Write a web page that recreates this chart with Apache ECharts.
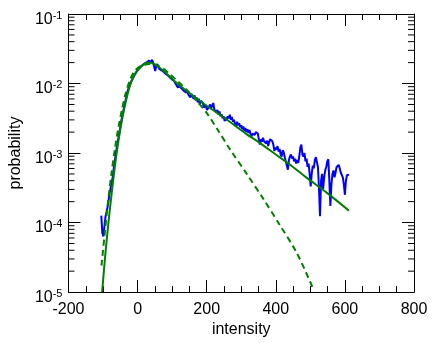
<!DOCTYPE html>
<html>
<head>
<meta charset="utf-8">
<script src="https://cdn.jsdelivr.net/npm/echarts@6/dist/echarts.min.js"></script>
<style>
  html, body { margin: 0; padding: 0; background: #fff; }
  #chart { width: 436px; height: 343px; }
</style>
</head>
<body>
<div id="chart"></div>
<script>
// measured histogram: [intensity, probability]
const measured = [
  [-105,1.26e-4],[-102,7.08e-5],[-99,6.31e-5],[-96,8.91e-5],[-93,1.20e-4],[-90,1.41e-4],
  [-87,1.66e-4],[-84,2.09e-4],[-81,2.63e-4],[-78,3.16e-4],[-75,3.80e-4],[-72,4.47e-4],
  [-69,6.03e-4],[-66,7.59e-4],[-63,1.00e-3],[-60,1.20e-3],[-57,1.48e-3],[-54,1.82e-3],
  [-51,2.19e-3],[-48,2.75e-3],[-45,3.31e-3],[-42,3.80e-3],[-39,4.68e-3],[-36,5.37e-3],
  [-33,6.31e-3],[-30,7.41e-3],[-27,8.32e-3],[-24,9.12e-3],[-21,1.00e-2],[-18,1.05e-2],
  [-15,1.15e-2],[-12,1.20e-2],[-9,1.32e-2],[-6,1.38e-2],[-3,1.48e-2],[0,1.55e-2],
  [3,1.62e-2],[6,1.66e-2],[9,1.74e-2],[12,1.82e-2],[15,1.86e-2],[18,1.91e-2],
  [21,1.95e-2],[24,2.00e-2],[27,2.04e-2],[30,1.95e-2],[33,2.14e-2],[36,2.00e-2],
  [39,2.09e-2],[42,2.19e-2],[45,2.00e-2],[48,1.91e-2],[51,1.51e-2],[54,1.78e-2],
  [57,1.91e-2],[60,1.74e-2],[63,1.62e-2],[66,1.70e-2],[69,1.55e-2],[72,1.58e-2],
  [75,1.48e-2],[78,1.45e-2],[81,1.38e-2],[84,1.41e-2],[87,1.32e-2],[90,1.29e-2],
  [93,1.23e-2],[96,1.26e-2],[99,1.15e-2],[102,1.17e-2],[105,1.10e-2],[108,1.05e-2],
  [111,9.77e-3],[114,1.00e-2],[117,8.71e-3],[120,9.55e-3],[123,8.91e-3],[126,9.12e-3],
  [129,8.32e-3],[132,8.51e-3],[135,7.76e-3],[138,8.13e-3],[141,7.41e-3],[144,7.94e-3],
  [147,6.92e-3],[150,7.24e-3],[153,6.31e-3],[156,7.08e-3],[159,6.61e-3],[162,6.03e-3],
  [165,6.76e-3],[168,5.75e-3],[171,6.31e-3],[174,5.37e-3],[177,6.03e-3],[180,5.01e-3],
  [183,5.62e-3],[186,5.89e-3],[189,5.25e-3],[192,4.47e-3],[195,5.01e-3],[198,4.68e-3],
  [201,4.17e-3],[204,3.98e-3],[207,4.68e-3],[210,5.01e-3],[213,4.37e-3],[216,4.79e-3],
  [219,5.25e-3],[222,4.27e-3],[225,4.47e-3],[228,3.80e-3],[231,4.17e-3],[234,3.55e-3],
  [237,3.98e-3],[240,3.39e-3],[243,3.63e-3],[246,3.16e-3],[249,3.39e-3],[252,2.88e-3],
  [255,3.24e-3],[258,2.95e-3],[261,3.39e-3],[264,3.16e-3],[267,3.55e-3],[270,3.02e-3],
  [273,3.31e-3],[276,2.82e-3],[279,3.02e-3],[282,2.63e-3],[285,2.40e-3],[288,2.82e-3],
  [291,2.51e-3],[294,2.69e-3],[297,2.34e-3],[300,2.51e-3],[303,2.19e-3],[306,2.40e-3],
  [309,2.09e-3],[312,2.29e-3],[315,2.00e-3],[318,2.19e-3],[321,1.95e-3],[324,2.14e-3],
  [327,1.86e-3],[330,1.74e-3],[333,1.91e-3],[336,2.04e-3],[339,1.82e-3],[342,2.00e-3],
  [345,2.04e-3],[348,1.91e-3],[351,1.58e-3],[354,1.32e-3],[357,1.58e-3],[360,1.45e-3],
  [363,1.66e-3],[366,1.48e-3],[369,1.58e-3],[372,1.38e-3],[375,1.51e-3],[378,1.26e-3],
  [381,1.45e-3],[384,1.58e-3],[387,1.66e-3],[390,1.48e-3],[393,1.32e-3],[396,1.07e-3],
  [399,1.20e-3],[402,1.12e-3],[405,1.26e-3],[408,1.05e-3],[411,1.15e-3],[414,9.55e-4],
  [417,8.91e-4],[420,1.10e-3],[423,1.02e-3],[426,8.71e-4],[429,7.59e-4],[432,6.61e-4],
  [435,5.75e-4],[438,7.94e-4],[441,8.91e-4],[444,9.55e-4],[447,8.32e-4],[450,8.91e-4],
  [453,7.59e-4],[456,8.32e-4],[459,7.08e-4],[462,7.94e-4],[465,7.24e-4],[468,8.91e-4],
  [471,1.20e-3],[474,1.32e-3],[477,9.55e-4],[480,8.91e-4],[483,1.00e-3],[486,7.59e-4],
  [489,8.32e-4],[492,6.31e-4],[495,7.08e-4],[498,5.01e-4],[501,3.31e-4],[504,5.01e-4],
  [507,6.61e-4],[510,6.03e-4],[513,7.94e-4],[516,8.71e-4],[519,8.91e-4],[522,6.31e-4],
  [525,3.16e-4],[528,1.23e-4],[531,3.98e-4],[534,5.01e-4],[537,3.02e-4],[540,4.47e-4],
  [543,5.62e-4],[546,6.31e-4],[549,7.59e-4],[552,8.13e-4],[555,3.98e-4],[558,1.74e-4],
  [561,3.55e-4],[564,5.01e-4],[567,5.62e-4],[570,4.47e-4],[573,5.25e-4],[576,6.31e-4],
  [579,6.46e-4],[582,6.76e-4],[585,6.03e-4],[588,5.25e-4],[591,5.01e-4],[594,4.47e-4],
  [597,3.55e-4],[600,2.51e-4],[603,3.98e-4],[606,4.79e-4],[609,4.79e-4],[612,4.90e-4]
];

// full fit (solid green)
const fitFull = [
  [-102.6,1.0e-5],[-95,2.82e-5],[-88,6.61e-5],[-80,1.58e-4],[-72,3.55e-4],[-62,8.91e-4],
  [-48,2.51e-3],[-35,5.25e-3],[-22,9.33e-3],[-10,1.32e-2],[0,1.55e-2],[14,1.82e-2],
  [29,2.00e-2],[45,1.95e-2],[60,1.74e-2],[80,1.45e-2],[110,1.05e-2],[140,7.94e-3],
  [172,6.03e-3],[200,4.79e-3],[250,3.24e-3],[316,1.86e-3],[344,1.51e-3],[400,9.55e-4],
  [450,6.31e-4],[488,4.47e-4],[550,2.63e-4],[612,1.48e-4]
];

// gaussian-like fit (dashed green)
const fitGauss = [
  [-104.5,2.40e-5],[-95,7.08e-5],[-85,2.09e-4],[-75,5.37e-4],[-65,1.20e-3],[-55,2.40e-3],
  [-45,4.27e-3],[-35,7.08e-3],[-22,1.12e-2],[-10,1.48e-2],[5,1.74e-2],[20,1.86e-2],
  [35,1.91e-2],[50,1.86e-2],[70,1.70e-2],[90,1.41e-2],[110,1.15e-2],[130,9.33e-3],
  [150,7.41e-3],[170,5.75e-3],[201,3.72e-3],[235,2.04e-3],[268,1.12e-3],[316,5.01e-4],
  [364,2.19e-4],[411,9.33e-5],[459,3.80e-5],[502,1.32e-5],[507,1.12e-5]
];

// minor ticks of the log axis
const yMinorTicks = [];
[1e-5, 1e-4, 1e-3, 1e-2].forEach(d => {
  [2, 3, 4, 5, 6, 7, 8, 9].forEach(m => yMinorTicks.push([-200, +(m * d).toPrecision(2)]));
});

const font = '"Liberation Sans", Arial, sans-serif';
const black = '#000';

const chart = echarts.init(document.getElementById('chart'), null, { renderer: 'canvas' });

const xBase = {
  type: 'value', min: -200, max: 800, interval: 200,
  axisLine: { onZero: false, lineStyle: { color: black, width: 1 } },
  axisTick: { inside: true, length: 12, lineStyle: { color: black } },
  minorTick: { show: true, splitNumber: 4, length: 6, lineStyle: { color: black } },
  splitLine: { show: false }
};
const yBase = {
  type: 'log', logBase: 10, min: 1e-5, max: 1e-1,
  axisLine: { onZero: false, lineStyle: { color: black, width: 1 } },
  axisTick: { inside: true, length: 12, lineStyle: { color: black } },
  splitLine: { show: false }
};

chart.setOption({
  animation: false,
  grid: { left: 65, right: 22, top: 14, bottom: 50 },
  xAxis: [
    Object.assign({}, xBase, {
      position: 'bottom',
      name: 'intensity', nameLocation: 'middle', nameGap: 27,
      nameTextStyle: { fontFamily: font, fontSize: 16, color: black },
      axisLabel: { fontFamily: font, fontSize: 16, color: black, margin: 9 }
    }),
    Object.assign({}, xBase, { position: 'top', axisLabel: { show: false } })
  ],
  yAxis: [
    Object.assign({}, yBase, {
      position: 'left',
      name: 'probability', nameLocation: 'middle', nameGap: 36, nameRotate: 90,
      nameTextStyle: { fontFamily: font, fontSize: 16, color: black },
      axisLabel: {
        margin: 6,
        padding: [8, 0, 0, 0],
        formatter: v => '{b|10}{s|' + Math.round(Math.log10(v)) + '}',
        rich: {
          b: { fontFamily: font, fontSize: 16, lineHeight: 16, color: black, padding: [3, 0, 0, 0] },
          s: { fontFamily: font, fontSize: 11, lineHeight: 11, color: black, verticalAlign: 'top' }
        }
      }
    }),
    Object.assign({}, yBase, { position: 'right', axisLabel: { show: false } })
  ],
  series: [
    {
      type: 'custom', xAxisIndex: 0, yAxisIndex: 0, silent: true, z: 1,
      data: yMinorTicks,
      renderItem: (params, api) => {
        const l = api.coord([-200, api.value(1)]);
        const r = api.coord([800, api.value(1)]);
        return {
          type: 'group', children: [
            { type: 'line', shape: { x1: l[0], y1: l[1], x2: l[0] + 6, y2: l[1] }, style: { stroke: black, lineWidth: 1 } },
            { type: 'line', shape: { x1: r[0], y1: r[1], x2: r[0] - 6, y2: r[1] }, style: { stroke: black, lineWidth: 1 } }
          ]
        };
      }
    },
    {
      name: 'measured', type: 'line', data: measured, showSymbol: false,
      lineStyle: { color: '#0000ff', width: 2 }, z: 2
    },
    {
      name: 'fit', type: 'line', data: fitFull, showSymbol: false, smooth: 0.3,
      lineStyle: { color: '#007f00', width: 2 }, z: 3
    },
    {
      name: 'gauss', type: 'line', data: fitGauss, showSymbol: false, smooth: 0.3,
      lineStyle: { color: '#007f00', width: 2, type: [6, 4] }, z: 4
    }
  ]
});
</script>
</body>
</html>
